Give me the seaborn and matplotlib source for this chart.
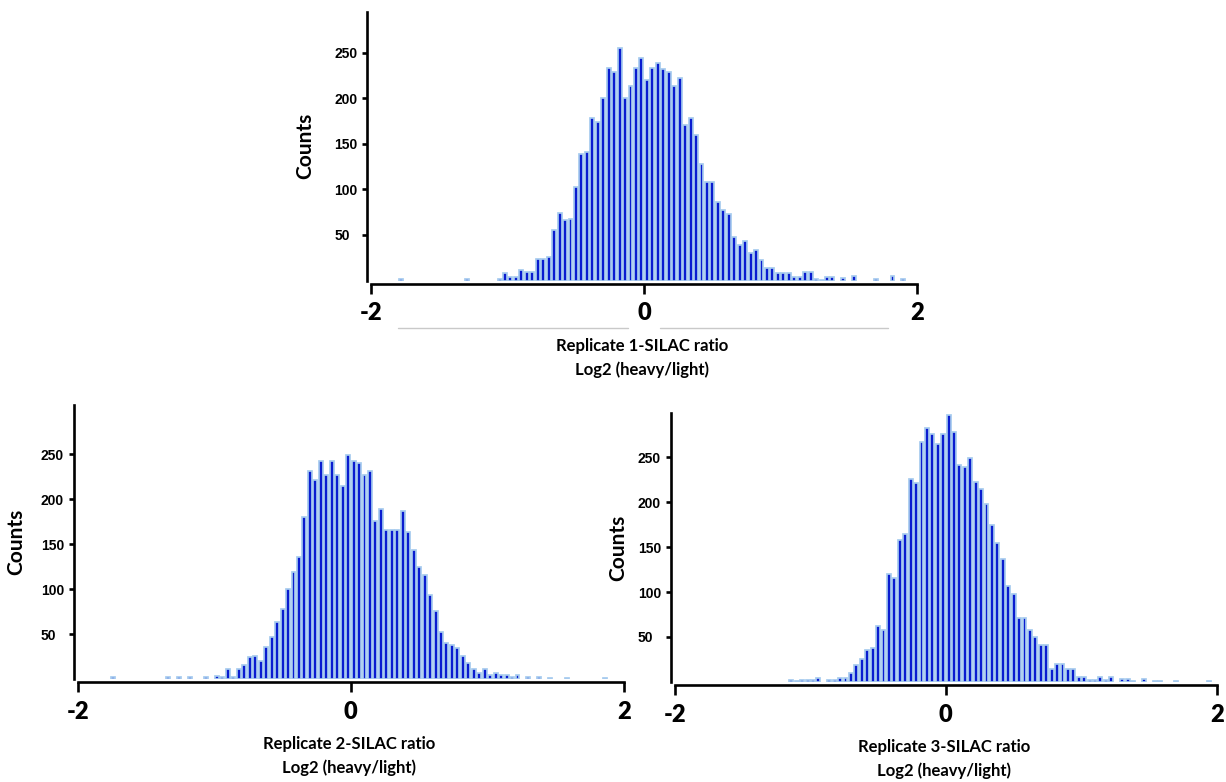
import numpy as np
import pandas as pd
import matplotlib
matplotlib.use("Agg")
import matplotlib.pyplot as plt
from matplotlib.lines import Line2D
import seaborn as sns

# ---- data: counts per 0.04-wide bin of log2(heavy/light), from -2 to 2 ----
bin_left = -2.0
bin_right = 2.0
bin_width = 0.04
n_bins = 100

rep1_counts = [
    0, 0, 0, 0, 0, 2, 0, 0, 0, 0,
    0, 0, 0, 0, 0, 0, 0, 2, 0, 0,
    0, 0, 0, 2, 8, 4, 4, 12, 9, 9,
    24, 24, 26, 55, 74, 66, 68, 103, 139, 141,
    179, 174, 200, 233, 229, 255, 201, 214, 233, 244,
    220, 233, 239, 232, 229, 214, 222, 171, 179, 160,
    128, 108, 108, 86, 77, 73, 48, 39, 43, 30,
    34, 22, 14, 14, 8, 8, 8, 4, 4, 9,
    9, 2, 1, 4, 4, 0, 3, 0, 5, 0,
    0, 0, 2, 0, 0, 5, 0, 2, 0, 0,
]
rep2_counts = [
    0, 0, 0, 0, 0, 0, 2, 0, 0, 0,
    0, 0, 0, 0, 0, 0, 2, 0, 2, 0,
    2, 0, 0, 2, 0, 3, 2, 11, 2, 11,
    16, 25, 26, 20, 36, 47, 64, 78, 100, 119,
    136, 180, 232, 222, 243, 227, 243, 227, 215, 249,
    243, 240, 227, 232, 176, 189, 166, 166, 166, 187,
    164, 144, 125, 116, 94, 76, 52, 40, 38, 34,
    26, 18, 11, 7, 11, 4, 7, 4, 4, 2,
    4, 0, 2, 0, 2, 0, 1, 0, 0, 1,
    0, 0, 0, 0, 0, 0, 1, 0, 0, 0,
]
rep3_counts = [
    0, 0, 0, 0, 0, 0, 0, 0, 0, 0,
    0, 0, 0, 0, 0, 0, 0, 0, 0, 0,
    0, 2, 1, 2, 2, 2, 4, 0, 2, 2,
    4, 4, 10, 19, 26, 36, 38, 62, 58, 120,
    116, 158, 164, 226, 221, 267, 282, 276, 265, 276,
    297, 278, 241, 239, 249, 222, 215, 198, 174, 155,
    137, 107, 98, 71, 71, 58, 50, 41, 41, 14,
    20, 20, 14, 14, 5, 5, 2, 2, 5, 2,
    5, 0, 3, 3, 1, 0, 3, 0, 1, 1,
    0, 0, 1, 0, 0, 0, 0, 0, 1, 0,
]

x_ticks = [-2, 0, 2]
x_tick_labels = ["-2", "0", "2"]
y_ticks = [50, 100, 150, 200, 250]
y_tick_labels = ["50", "100", "150", "200", "250"]
y_label = "Counts"
x_labels = [
    "Replicate 1-SILAC ratio\nLog2 (heavy/light)",
    "Replicate 2-SILAC ratio\nLog2 (heavy/light)",
    "Replicate 3-SILAC ratio\nLog2 (heavy/light)",
]

# ---- style ----
sns.set_style("white")
plt.rcParams["font.family"] = ["Lato", "DejaVu Sans"]
plt.rcParams["text.color"] = "black"
plt.rcParams["axes.labelcolor"] = "black"

BAR_FILL = "#0a1cd0"
BAR_EDGE = "#a6caee"

fig = plt.figure(figsize=(12.26, 7.82), dpi=100)

# axes rectangles (figure fractions)
rects = [
    [0.2995, 0.6413, 0.4485, 0.3434],
    [0.0600, 0.1317, 0.4490, 0.3503],
    [0.5470, 0.1279, 0.4457, 0.3440],
]
ylims = [295, 305, 299]
ylabel_offsets = [52, 47, 42]  # px from axis to right edge of ylabel

centers = bin_left + bin_width * (np.arange(n_bins) + 0.5)

for k, (counts, rect, ytop, xl, yoff) in enumerate(
        zip([rep1_counts, rep2_counts, rep3_counts], rects, ylims, x_labels, ylabel_offsets)):
    ax = fig.add_axes(rect)
    df = pd.DataFrame({"ratio": centers, "count": np.asarray(counts, dtype=float)})
    sns.histplot(data=df, x="ratio", weights="count", binwidth=bin_width,
                 binrange=(bin_left, bin_right), ax=ax,
                 shrink=0.72, color=BAR_FILL, edgecolor=BAR_EDGE,
                 linewidth=1.25, alpha=1)
    # empty bins get no outline (no stray line along the baseline)
    for p in ax.patches:
        if p.get_height() <= 0:
            p.set_linewidth(0)
            p.set_visible(False)
    ax.set_xlim(-2.03, 2.0)
    ax.set_ylim(0, ytop)

    for s in ["top", "right"]:
        ax.spines[s].set_visible(False)
    for s in ["left", "bottom"]:
        ax.spines[s].set_linewidth(1.9)
        ax.spines[s].set_color("black")
    ax.spines["bottom"].set_position(("outward", 2.5))
    ax.spines["bottom"].set_bounds(-2, 2)

    ax.set_xticks(x_ticks)
    ax.set_xticklabels(x_tick_labels, fontsize=17, fontweight="heavy")
    ax.tick_params(axis="x", direction="out", length=7.5, width=1.9, pad=5.5,
                   bottom=True, colors="black")

    ax.set_yticks(y_ticks)
    ax.set_yticklabels(y_tick_labels, fontsize=10, fontweight="bold",
                       family=["Liberation Sans", "DejaVu Sans"])
    ax.tick_params(axis="y", direction="out", length=3.5, width=1.9, pad=20,
                   left=True, colors="black")
    for lbl in ax.get_yticklabels():
        lbl.set_horizontalalignment("left")

    ax.set_ylabel(y_label, fontsize=15, fontweight="bold", color="black")
    ax_w_px = rect[2] * 1226
    ax.yaxis.set_label_coords(-yoff / ax_w_px, 0.5)

    ax.set_xlabel(xl, fontsize=12, fontweight="bold", labelpad=10,
                  linespacing=1.55, color="black")
    ax.grid(False)

# faint gray rule lines under the top chart's tick labels (as in the source image)
fig.add_artist(Line2D([398 / 1226, 628 / 1226], [1 - 328 / 782] * 2,
                      color="#c9c9c9", lw=1.0))
fig.add_artist(Line2D([660 / 1226, 888 / 1226], [1 - 328 / 782] * 2,
                      color="#c9c9c9", lw=1.0))

fig.savefig("out.png", dpi=100, facecolor="white")
